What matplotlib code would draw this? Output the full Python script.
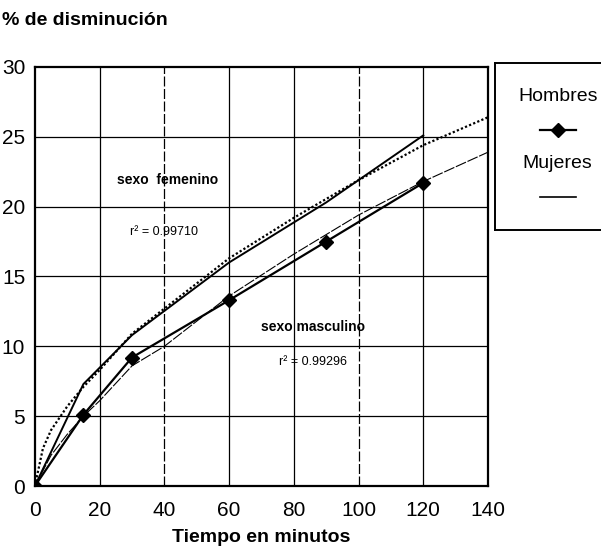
import matplotlib
matplotlib.use("Agg")
import matplotlib.pyplot as plt

plt.rcParams['font.family'] = ['Liberation Sans', 'DejaVu Sans']

# datos
t_hombres = [0, 15, 30, 60, 90, 120]
y_hombres = [0, 5.1, 9.2, 13.3, 17.5, 21.7]

t_mujeres = [0, 15, 30, 60, 90, 120]
y_mujeres = [0, 7.3, 10.8, 16.0, 20.3, 25.1]

# curvas ajustadas
t_fit_h = [0, 5, 10, 15, 20, 30, 40, 60, 80, 100, 120, 140]
y_fit_h = [0, 2.2, 3.7, 5.0, 6.1, 8.6, 10.0, 13.6, 16.6, 19.4, 21.8, 23.9]

t_fit_m = [0, 2.5, 5, 10, 15, 20, 30, 40, 60, 80, 100, 120, 140]
y_fit_m = [0, 2.7, 4.0, 5.7, 7.1, 8.3, 10.9, 12.7, 16.3, 19.2, 21.9, 24.4, 26.4]

fig = plt.figure(figsize=(6.01, 5.58), dpi=100)
ax = fig.add_axes([0.058, 0.129, 0.754, 0.751])

# rejilla
for x in [20, 60, 80, 120]:
    ax.axvline(x, color='black', lw=0.9, zorder=0)
for x in [40, 100]:
    ax.axvline(x, color='black', lw=0.9, ls=(0, (8, 2)), zorder=0)
for y in [5, 10, 15, 20, 25]:
    ax.axhline(y, color='black', lw=0.9, zorder=0)

ax.plot(t_fit_m, y_fit_m, color='black', lw=1.6, ls=(0, (1, 1)))
ax.plot(t_fit_h, y_fit_h, color='black', lw=0.8, ls=(0, (10, 1.5)))
ax.plot(t_mujeres, y_mujeres, color='black', lw=1.4)
ax.plot(t_hombres, y_hombres, color='black', lw=1.6, marker='D', ms=7)

ax.set_xlim(0, 140)
ax.set_ylim(0, 30)
ax.set_xticks(range(0, 141, 20))
ax.set_yticks(range(0, 31, 5))
ax.tick_params(length=0, labelsize=15)
ax.tick_params(axis='x', pad=11)
ax.tick_params(axis='y', pad=7)
for s in ax.spines.values():
    s.set_linewidth(1.6)

ax.text(41, 21.9, 'sexo  femenino', ha='center', va='center', fontsize=10, fontweight='bold')
ax.text(40, 18.2, 'r² = 0.99710', ha='center', va='center', fontsize=9)
ax.text(86, 11.4, 'sexo masculino', ha='center', va='center', fontsize=10, fontweight='bold')
ax.text(86, 8.9, 'r² = 0.99296', ha='center', va='center', fontsize=9)

ax.set_xlabel('Tiempo en minutos', fontsize=14, fontweight='bold', labelpad=6)
fig.text(0.003, 0.964, '% de disminución', fontsize=14, fontweight='bold', va='center', ha='left')

# leyenda
lg = fig.add_axes([0.824, 0.588, 0.2, 0.299])
lg.set_xlim(0, 1)
lg.set_ylim(0, 1)
lg.set_xticks([])
lg.set_yticks([])
for s in lg.spines.values():
    s.set_linewidth(1.4)
lg.text(0.52, 0.8, 'Hombres', ha='center', va='center', fontsize=14)
lg.plot([0.37, 0.67], [0.6, 0.6], color='black', lw=1.6)
lg.plot([0.52], [0.6], marker='D', color='black', ms=7)
lg.text(0.52, 0.4, 'Mujeres', ha='center', va='center', fontsize=14)
lg.plot([0.37, 0.67], [0.2, 0.2], color='black', lw=1.2)

fig.savefig('out.png', dpi=100)
